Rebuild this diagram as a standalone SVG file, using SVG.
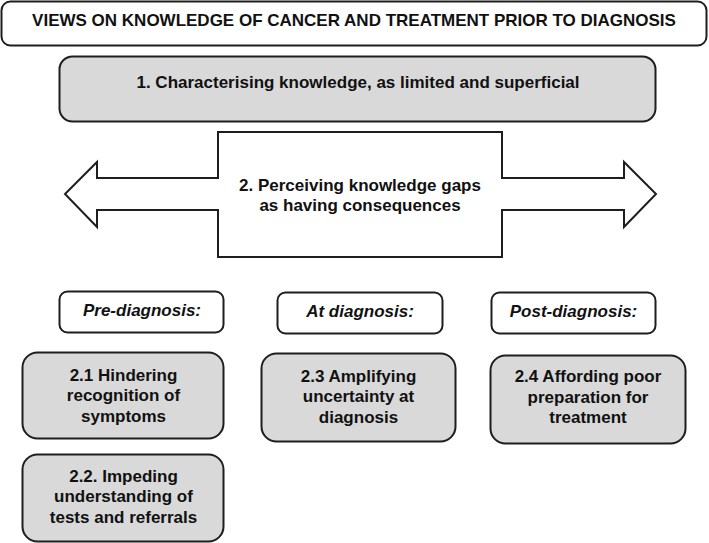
<svg xmlns="http://www.w3.org/2000/svg" width="709" height="543" viewBox="0 0 709 543">
<style>
.box{fill:#ffffff;stroke:#1e1e1e;stroke-width:2}
.gray{fill:#d9d9d9;stroke:#1e1e1e;stroke-width:2}
.t{font-family:"Liberation Sans",Arial,sans-serif;font-weight:bold;font-size:17px;fill:#111;text-anchor:middle}
.i{font-style:italic}
</style>
<rect width="709" height="543" fill="#ffffff"/>
<g id="title">
<rect class="box" x="1.5" y="1.5" width="705" height="44" rx="9"/>
<text class="t" x="354" y="26">VIEWS ON KNOWLEDGE OF CANCER AND TREATMENT PRIOR TO DIAGNOSIS</text>
</g>
<g id="node1">
<rect class="gray" x="59.5" y="56.5" width="596" height="65" rx="13"/>
<text class="t" x="358" y="88">1. Characterising knowledge, as limited and superficial</text>
</g>
<g id="node2">
<path class="box" d="M218,132 H502 V178 H624 V162 L656,194 L624,227 V210 H502 V257 H218 V210 H97 V227 L65,194 L97,162 V178 H218 Z" stroke-linejoin="miter"/>
<text class="t" x="360" y="191">2. Perceiving knowledge gaps</text>
<text class="t" x="360" y="211">as having consequences</text>
</g>
<g id="pre">
<rect class="box" x="59.5" y="291.5" width="164" height="41" rx="8"/>
<text class="t i" x="142" y="316">Pre-diagnosis:</text>
</g>
<g id="at">
<rect class="box" x="277.5" y="292.5" width="165" height="41" rx="8"/>
<text class="t i" x="360" y="317">At diagnosis:</text>
</g>
<g id="post">
<rect class="box" x="491.5" y="292.5" width="164" height="41" rx="8"/>
<text class="t i" x="573.5" y="317">Post-diagnosis:</text>
</g>
<g id="node2_1">
<rect class="gray" x="22.5" y="352.5" width="201" height="86" rx="15"/>
<text class="t" x="123.5" y="381">2.1 Hindering</text>
<text class="t" x="123.5" y="401">recognition of</text>
<text class="t" x="123.5" y="422">symptoms</text>
</g>
<g id="node2_2">
<rect class="gray" x="22.5" y="454.5" width="201" height="87" rx="15"/>
<text class="t" x="123.5" y="482">2.2. Impeding</text>
<text class="t" x="123.5" y="502">understanding of</text>
<text class="t" x="123.5" y="523">tests and referrals</text>
</g>
<g id="node2_3">
<rect class="gray" x="261.5" y="353.5" width="194" height="88" rx="15"/>
<text class="t" x="358.5" y="382">2.3 Amplifying</text>
<text class="t" x="358.5" y="402">uncertainty at</text>
<text class="t" x="358.5" y="423">diagnosis</text>
</g>
<g id="node2_4">
<rect class="gray" x="490.5" y="355.5" width="195" height="88" rx="15"/>
<text class="t" x="588" y="382">2.4 Affording poor</text>
<text class="t" x="588" y="403">preparation for</text>
<text class="t" x="588" y="423">treatment</text>
</g>
<g id="connectors"></g>
</svg>
